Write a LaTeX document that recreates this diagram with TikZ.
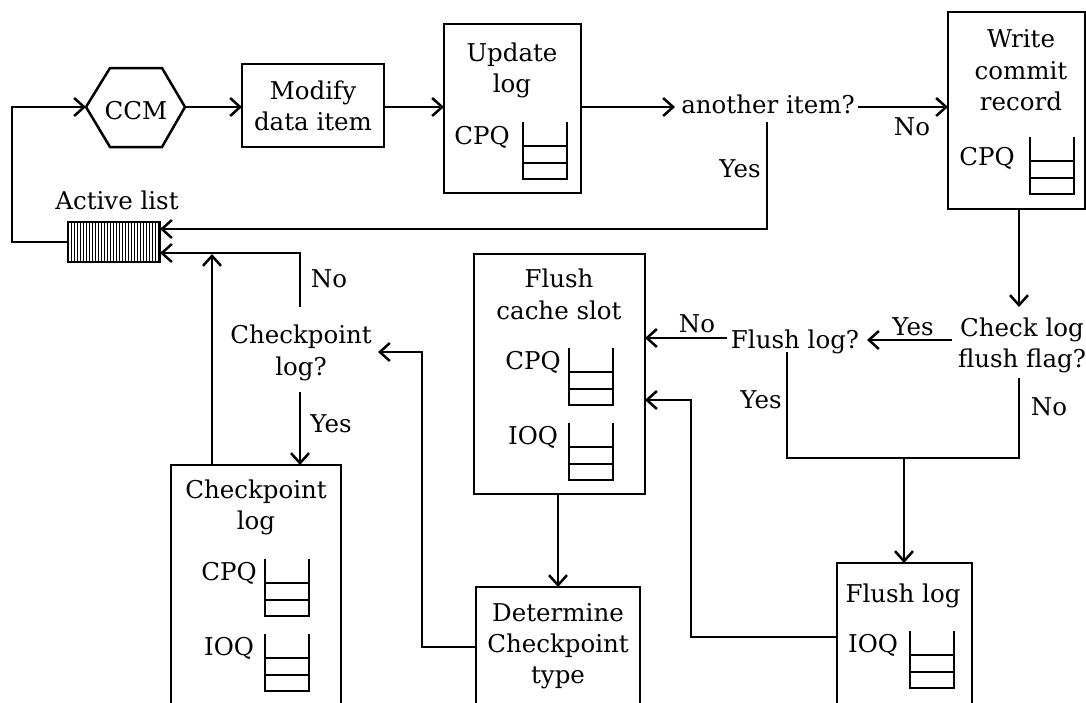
\documentclass[tikz,border=0pt]{standalone}
\usepackage{fontspec}
\setmainfont{DejaVu Serif}
\usetikzlibrary{arrows.meta}
\tikzset{
  ln/.style={line width=2.5pt},
  arr/.style={ln,-{Straight Barb[length=10pt,width=18pt]}},
  box/.style={draw,line width=2.5pt,rectangle,inner sep=0pt,outer sep=0pt},
  txt/.style={font=\fontsize{24.5}{31}\selectfont,align=center,inner sep=0pt},
}
\newcommand\qicon[2]{%
  \draw[line width=2.5pt] (#1,#2) -- (#1,#2+57) -- (#1+44,#2+57) -- (#1+44,#2);
  \draw[line width=2.5pt] (#1,#2+24) -- ++(44,0) (#1,#2+41) -- ++(44,0);}
\begin{document}
\begin{tikzpicture}[x=1pt,y=-1pt]
\useasboundingbox (0,0) rectangle (1086,702);
\clip (0,0) rectangle (1086,702);
\fill[white] (0,0) rectangle (1086,702);

% CCM hexagon
\draw[ln,line join=miter] (86,107) -- (110,68) -- (162,68) -- (185,107) -- (162,147) -- (110,147) -- cycle;
\node[txt,anchor=base] (ccm) at (136,119) {CCM};
\coordinate (ccmW) at (86,107);
\coordinate (ccmE) at (185,107);

% boxes
\node[box,minimum width=142pt,minimum height=83pt] (mod) at (313,105.5) {};
\node[txt] (modt) at (313,106) {Modify\\data item};

\node[box,minimum width=137pt,minimum height=169pt] (upd) at (512.5,108.5) {};
\node[txt,anchor=base] (updt1) at (512,61) {Update};
\node[txt,anchor=base] (updt2) at (512,92) {log};
\node[txt,anchor=base] (updq) at (482,144) {CPQ};
\qicon{523}{122}

\node[box,minimum width=137pt,minimum height=197pt] (wr) at (1016.5,110.5) {};
\node[txt,anchor=base] (wrt1) at (1021,47) {Write};
\node[txt,anchor=base] (wrt2) at (1021,79) {commit};
\node[txt,anchor=base] (wrt3) at (1021,110) {record};
\node[txt,anchor=base] (wrq) at (987,165) {CPQ};
\qicon{1030}{137}

\node[box,minimum width=171pt,minimum height=240pt] (cache) at (559.5,374) {};
\node[txt,anchor=base] (cat1) at (559,287) {Flush};
\node[txt,anchor=base] (cat2) at (559,319) {cache slot};
\node[txt,anchor=base] (caq1) at (533,369) {CPQ};
\node[txt,anchor=base] (caq2) at (533,444) {IOQ};
\qicon{569}{348}
\qicon{569}{423}

\node[box,minimum width=164pt,minimum height=140pt] (det) at (558,657) {};
\node[txt,anchor=base] (det1) at (558,621) {Determine};
\node[txt,anchor=base] (det2) at (558,652) {Checkpoint};
\node[txt,anchor=base] (det3) at (558,683) {type};

\node[box,minimum width=135pt,minimum height=165pt] (fl) at (904.5,645.5) {};
\node[txt,anchor=base] (flt) at (903,602) {Flush log};
\node[txt,anchor=base] (flq) at (873,652) {IOQ};
\qicon{910}{631}

\node[box,minimum width=170pt,minimum height=265pt] (ck) at (256,597.5) {};
\node[txt,anchor=base] (ckt1) at (256,498) {Checkpoint};
\node[txt,anchor=base] (ckt2) at (256,529) {log};
\node[txt,anchor=base] (ckq1) at (229,580) {CPQ};
\node[txt,anchor=base] (ckq2) at (229,655) {IOQ};
\qicon{265}{559}
\qicon{265}{634}

% active list
\foreach \i in {71,74,...,158} \draw[line width=0.7pt] (\i,222) -- (\i,262);
\node[box,minimum width=92pt,minimum height=40pt] (al) at (114,242) {};
\node[txt,anchor=base] (alt) at (117,209) {Active list};

% decision texts
\node[txt,anchor=base] (ai) at (768,113) {another item?};
\node[txt,anchor=base] (cl1) at (1022,336) {Check log};
\node[txt,anchor=base] (cl2) at (1022,367) {flush flag?};
\node[txt,anchor=base] (fq) at (795,348) {Flush log?};
\node[txt,anchor=base] (cq1) at (301,343) {Checkpoint};
\node[txt,anchor=base] (cq2) at (301,375) {log?};

% labels
\node[txt,anchor=base] (l1) at (912,135) {No};
\node[txt,anchor=base] (l2) at (740,177) {Yes};
\node[txt,anchor=base] (l3) at (913,335) {Yes};
\node[txt,anchor=base] (l4) at (697,332) {No};
\node[txt,anchor=base] (l5) at (761,408) {Yes};
\node[txt,anchor=base] (l6) at (1049,415) {No};
\node[txt,anchor=base] (l7) at (329,287) {No};
\node[txt,anchor=base] (l8) at (331,432) {Yes};

% ports
\coordinate (lb) at (12,242);
\coordinate (aiW) at (675,107);
\coordinate (aiE) at (858,107);
\coordinate (aiS) at (767,122);
\coordinate (alA) at (160,229);
\coordinate (alB) at (160,253);
\coordinate (clN) at (1019,307);
\coordinate (clW) at (952,340);
\coordinate (clS) at (1019,378);
\coordinate (fqE) at (867,340);
\coordinate (fqW) at (727,338);
\coordinate (fqS) at (787,352);
\coordinate (jn) at (904,458);
\coordinate (cqE) at (378,352);
\coordinate (cqN) at (300,307);
\coordinate (cqS) at (300,392);

% connectors
\draw[arr] (al.west) -- (lb) |- (ccmW);
\draw[arr] (ccmE) -- (mod.west |- ccmE);
\draw[arr] (mod.east |- ccmE) -- (upd.west |- ccmE);
\draw[arr] (upd.east |- aiW) -- (aiW);
\draw[arr] (aiE) -- (wr.west |- aiE);
\draw[arr] (aiS) |- (alA);
\draw[arr] (wr.south -| clN) -- (clN);
\draw[arr] (clW) -- (fqE);
\draw[arr] (fqW) -- (cache.east |- fqW);
\draw[ln] (clS) |- (jn);
\draw[ln] (fqS) |- (jn);
\draw[arr] (jn) -- (fl.north -| jn);
\draw[arr] (fl.west |- 0,637) -- (691,637) |- (cache.east |- 0,400);
\draw[arr] (cache.south -| 558,0) -- (det.north -| 558,0);
\draw[arr] (det.west |- 0,647) -- (422,647) |- (cqE);
\draw[arr] (cqN) |- (alB);
\draw[arr] (cqS) -- (ck.north -| cqS);
\draw[arr] (ck.north -| 212,0) -- (212,254);
\end{tikzpicture}
\end{document}
